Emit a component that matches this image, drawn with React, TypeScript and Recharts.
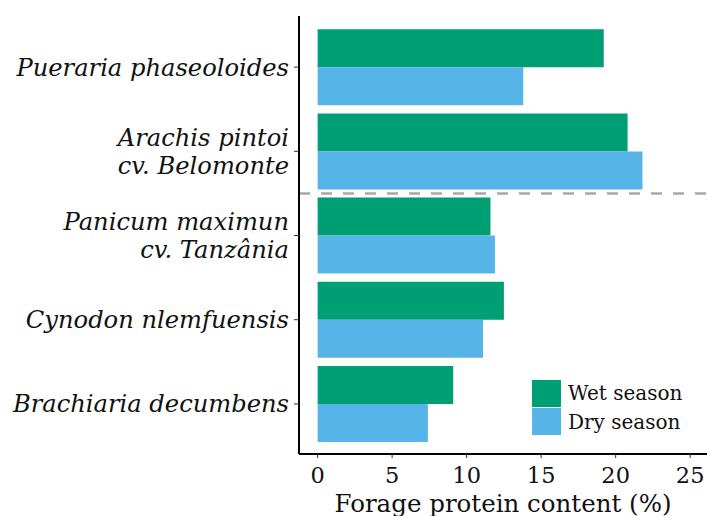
import React from 'react';
import { BarChart, Bar, XAxis, YAxis, ReferenceLine } from 'recharts';

const species = [
  'Pueraria phaseoloides',
  'Arachis pintoi\ncv. Belomonte',
  'Panicum maximun\ncv. Tanzânia',
  'Cynodon nlemfuensis',
  'Brachiaria decumbens',
];
const wetSeason = [19.2, 20.8, 11.6, 12.5, 9.1];
const drySeason = [13.8, 21.8, 11.9, 11.1, 7.4];
const xTicks = [0, 5, 10, 15, 20, 25];
// dashed separator drawn at the top of this category's band
const separatorBefore = species[2];

const WET = '#009E73';
const DRY = '#56B4E9';
const FONT = '"DejaVu Serif", serif';

const data = species.map((name, i) => ({ name, wet: wetSeason[i], dry: drySeason[i] }));

const SpeciesTick = (props: any) => {
  const { x, y, payload } = props;
  const lines: string[] = String(payload.value).split('\n');
  const lh = 28;
  const start = -((lines.length - 1) * lh) / 2 + 8.5;
  return (
    <text x={x} y={y} textAnchor="end" fontFamily={FONT} fontStyle="italic" fontSize={24.2} fill="#111">
      {lines.map((l, i) => (
        <tspan key={i} x={x} dy={i === 0 ? start : lh}>{l}</tspan>
      ))}
    </text>
  );
};

// legend drawn as an overlay so it does not eat into the plot area
const SeasonLegend = () => (
  <div style={{ position: 'absolute', left: 532, top: 379, fontFamily: FONT, fontSize: 20, color: '#111' }}>
    {[{ label: 'Wet season', color: WET }, { label: 'Dry season', color: DRY }].map((it) => (
      <div key={it.label} style={{ display: 'flex', alignItems: 'center', height: 28.5 }}>
        <div style={{ width: 29, height: 27, background: it.color, marginRight: 7 }} />
        <span>{it.label}</span>
      </div>
    ))}
  </div>
);

export default function App() {
  return (
    <div style={{ position: 'absolute', left: 0, top: 0, width: 707, height: 516, background: '#fff' }}>
      <BarChart
        width={707}
        height={516}
        data={data}
        layout="vertical"
        margin={{ top: 16, right: 0, bottom: 0, left: 0 }}
        barCategoryGap="5%"
        barGap={0}
      >
        <XAxis
          type="number"
          domain={[-1.25, 26.13]}
          ticks={xTicks}
          allowDataOverflow
          height={62}
          axisLine={{ stroke: '#000', strokeWidth: 2 }}
          tickLine={{ stroke: '#333' }}
          tickSize={4}
          tickMargin={9}
          tick={{ fill: '#111', fontFamily: FONT, fontSize: 22.5 }}
          label={{ value: 'Forage protein content (%)', position: 'insideBottom', offset: 4, fill: '#111', fontFamily: FONT, fontSize: 24.5 }}
        />
        <YAxis
          type="category"
          dataKey="name"
          width={299}
          padding={{ top: 9, bottom: 8 }}
          axisLine={{ stroke: '#000', strokeWidth: 2 }}
          tickLine={{ stroke: '#333' }}
          tickSize={5}
          tickMargin={5}
          tick={<SpeciesTick />}
          interval={0}
        />
        <ReferenceLine y={separatorBefore} position="start" stroke="#A8A8A8" strokeWidth={2.5} strokeDasharray="11 11" />
        <Bar dataKey="wet" name="Wet season" fill={WET} isAnimationActive={false} />
        <Bar dataKey="dry" name="Dry season" fill={DRY} isAnimationActive={false} />
      </BarChart>
      <SeasonLegend />
    </div>
  );
}
